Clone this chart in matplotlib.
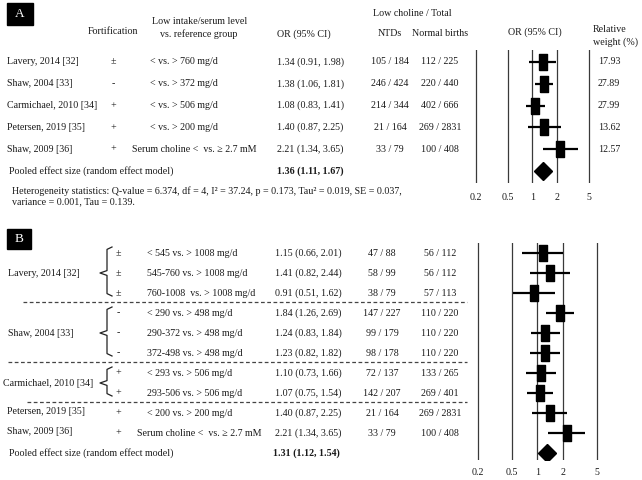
import matplotlib
matplotlib.use('Agg')
import matplotlib.pyplot as plt
from matplotlib.transforms import blended_transform_factory
from matplotlib.lines import Line2D
from matplotlib.patches import Rectangle
import numpy as np

# ---- panel A data ----
a_study = ['Lavery, 2014 [32]', 'Shaw, 2004 [33]', 'Carmichael, 2010 [34]',
           'Petersen, 2019 [35]', 'Shaw, 2009 [36]']
a_fort = ['\u00b1', '-', '+', '+', '+']
a_cmp = ['< vs. > 760 mg/d', '< vs. > 372 mg/d', '< vs. > 506 mg/d',
         '< vs. > 200 mg/d', 'Serum choline <  vs. \u2265 2.7 mM']
a_or = [1.34, 1.38, 1.08, 1.40, 2.21]
a_lo = [0.91, 1.06, 0.83, 0.87, 1.34]
a_hi = [1.98, 1.81, 1.41, 2.25, 3.65]
a_ntd = ['105 / 184', '246 / 424', '214 / 344', '21 / 164', '33 / 79']
a_norm = ['112 / 225', '220 / 440', '402 / 666', '269 / 2831', '100 / 408']
a_weight = [17.93, 27.89, 27.99, 13.62, 12.57]
a_pooled = [1.36, 1.11, 1.67]

# ---- panel B data ----
b_study = ['Lavery, 2014 [32]', 'Shaw, 2004 [33]', 'Carmichael, 2010 [34]',
           'Petersen, 2019 [35]', 'Shaw, 2009 [36]']
b_group_size = [3, 3, 2, 1, 1]
b_fort = ['\u00b1', '\u00b1', '\u00b1', '-', '-', '-', '+', '+', '+', '+']
b_cmp = ['< 545 vs. > 1008 mg/d', '545-760 vs. > 1008 mg/d', '760-1008  vs. > 1008 mg/d',
         '< 290 vs. > 498 mg/d', '290-372 vs. > 498 mg/d', '372-498 vs. > 498 mg/d',
         '< 293 vs. > 506 mg/d', '293-506 vs. > 506 mg/d',
         '< 200 vs. > 200 mg/d', 'Serum choline <  vs. \u2265 2.7 mM']
b_or = [1.15, 1.41, 0.91, 1.84, 1.24, 1.23, 1.10, 1.07, 1.40, 2.21]
b_lo = [0.66, 0.82, 0.51, 1.26, 0.83, 0.82, 0.73, 0.75, 0.87, 1.34]
b_hi = [2.01, 2.44, 1.62, 2.69, 1.84, 1.82, 1.66, 1.54, 2.25, 3.65]
b_ntd = ['47 / 88', '58 / 99', '38 / 79', '147 / 227', '99 / 179', '98 / 178',
         '72 / 137', '142 / 207', '21 / 164', '33 / 79']
b_norm = ['56 / 112', '56 / 112', '57 / 113', '110 / 220', '110 / 220', '110 / 220',
          '133 / 265', '269 / 401', '269 / 2831', '100 / 408']
b_pooled = [1.31, 1.12, 1.54]

ticks = [0.2, 0.5, 1, 2, 5]
tick_labels = ['0.2', '0.5', '1', '2', '5']

plt.rcParams['font.family'] = ['Liberation Serif', 'DejaVu Serif']
FS = 7.2
TXT = '#1a1a1a'
RECT = [(-0.27, -0.5), (0.27, -0.5), (0.27, 0.5), (-0.27, 0.5), (-0.27, -0.5)]

fig = plt.figure(figsize=(6.42, 4.8), dpi=100)


def fx(x):
    return x / 642


def fy(y):
    return 1 - y / 480


def forest(ax, orv, lo, hi, pooled, ylim, pad):
    rows = np.arange(len(orv))
    for t in ticks:
        ax.axvline(t, color='#3a3a3a', lw=0.9, zorder=1)
    ax.hlines(rows, lo, hi, color='black', lw=1.6, zorder=2)
    ax.plot(orv, rows, ls='none', marker=RECT, ms=11, color='black', zorder=3)
    ax.plot([pooled[0]], [len(orv)], ls='none', marker='D', ms=9, color='black', zorder=3)
    ax.set_xscale('log')
    ax.set_xlim(0.18, 5.5)
    ax.set_ylim(*ylim)
    ax.set_xticks(ticks, tick_labels)
    ax.minorticks_off()
    ax.tick_params(axis='x', length=0, labelsize=FS, pad=pad, labelcolor=TXT)
    ax.set_yticks([])
    for s in ax.spines.values():
        s.set_visible(False)
    ax.patch.set_visible(False)


def panel_box(x0, y0, w, h, letter):
    fig.add_artist(Rectangle((fx(x0), fy(y0 + h)), w / 642, h / 480,
                             transform=fig.transFigure, color='black'))
    fig.text(fx(x0 + w / 2), fy(y0 + h / 2), letter, color='white', fontsize=9.5,
             ha='center', va='center')


def ci_text(o, l, h):
    return f'{o:.2f} ({l:.2f}, {h:.2f})'


# ================= Panel A =================
axA = fig.add_axes([fx(472.3), fy(183), (592.3 - 472.3) / 642, 133 / 480])
forest(axA, a_or, a_lo, a_hi, a_pooled, (5.55, -0.55), 7)
trA = blended_transform_factory(fig.transFigure, axA.transData)

panel_box(7, 3, 26, 22, 'A')
hdr = dict(fontsize=FS, color=TXT, va='center')
fig.text(fx(113), fy(32), 'Fortification', ha='center', **hdr)
fig.text(fx(200), fy(21), 'Low intake/serum level', ha='center', **hdr)
fig.text(fx(199), fy(34), 'vs. reference group', ha='center', **hdr)
fig.text(fx(277), fy(34), 'OR (95% CI)', ha='left', **hdr)
fig.text(fx(412), fy(14), 'Low choline / Total', ha='center', **hdr)
fig.text(fx(390), fy(33), 'NTDs', ha='center', **hdr)
fig.text(fx(440), fy(33), 'Normal births', ha='center', **hdr)
fig.text(fx(535), fy(32), 'OR (95% CI)', ha='center', **hdr)
fig.text(fx(593), fy(29), 'Relative', ha='left', **hdr)
fig.text(fx(593), fy(42), 'weight (%)', ha='left', **hdr)

row = dict(fontsize=FS, color=TXT, va='center', transform=trA)
for i in range(len(a_study)):
    fig.text(fx(7), i, a_study[i], ha='left', **row)
    fig.text(fx(113), i, a_fort[i], ha='center', **row)
    cx = 132 if a_cmp[i].startswith('Serum') else 150
    fig.text(fx(cx), i, a_cmp[i], ha='left', **row)
    fig.text(fx(277), i, ci_text(a_or[i], a_lo[i], a_hi[i]), ha='left', **row)
    fig.text(fx(390), i, a_ntd[i], ha='center', **row)
    fig.text(fx(440), i, a_norm[i], ha='center', **row)
    fig.text(fx(609), i, f'{a_weight[i]:.2f}', ha='center', **row)
nA = len(a_study)
fig.text(fx(9), nA, 'Pooled effect size (random effect model)', ha='left', **row)
fig.text(fx(277), nA, ci_text(*a_pooled), ha='left', fontweight='bold', **row)

fig.text(fx(12), fy(191), 'Heterogeneity statistics: Q-value = 6.374, df = 4, I\u00b2 = 37.24, '
         'p = 0.173, Tau\u00b2 = 0.019, SE = 0.037,', ha='left', **hdr)
fig.text(fx(12), fy(202), 'variance = 0.001, Tau = 0.139.', ha='left', **hdr)

# ================= Panel B =================
axB = fig.add_axes([fx(474.1), fy(460), (600.5 - 474.1) / 642, 217 / 480])
forest(axB, b_or, b_lo, b_hi, b_pooled, (10.35, -0.5), 5.5)
trB = blended_transform_factory(fig.transFigure, axB.transData)
rowB = dict(fontsize=FS, color=TXT, va='center', transform=trB)

panel_box(7, 229, 24, 20, 'B')

for i in range(len(b_or)):
    fig.text(fx(118), i, b_fort[i], ha='center', **rowB)
    cx = 137 if b_cmp[i].startswith('Serum') else 147
    fig.text(fx(cx), i, b_cmp[i], ha='left', **rowB)
    fig.text(fx(275), i, ci_text(b_or[i], b_lo[i], b_hi[i]), ha='left', **rowB)
    fig.text(fx(382), i, b_ntd[i], ha='center', **rowB)
    fig.text(fx(440), i, b_norm[i], ha='center', **rowB)
nB = len(b_or)
fig.text(fx(9), nB, 'Pooled effect size (random effect model)', ha='left', **rowB)
fig.text(fx(273), nB, ci_text(*b_pooled), ha='left', fontweight='bold', **rowB)

# study labels, braces and separators
sep_x0 = [23, 8, 27]
start = 0
for g, (name, n) in enumerate(zip(b_study, b_group_size)):
    first, last = start, start + n - 1
    mid = (first + last) / 2
    if n > 1:
        fig.text(fx(3 if name.startswith('Carm') else 8), mid, name, ha='left', **rowB)
        top, bot = first - 0.3, last + 0.15
        bx = [fx(112), fx(107), fx(107), fx(100), fx(107), fx(107), fx(112)]
        by = [top, top + 0.12, mid - 0.12, mid, mid + 0.12, bot - 0.12, bot]
        fig.add_artist(Line2D(bx, by, transform=trB, color='#222222', lw=0.9))
        fig.add_artist(Line2D([fx(sep_x0[g]), fx(467)], [last + 0.45, last + 0.45],
                              transform=trB, color='#444444', lw=0.9, ls=(0, (3, 2))))
    else:
        fig.text(fx(7), mid - 0.1, name, ha='left', **rowB)
    start += n

fig.savefig('out.png', dpi=100)
